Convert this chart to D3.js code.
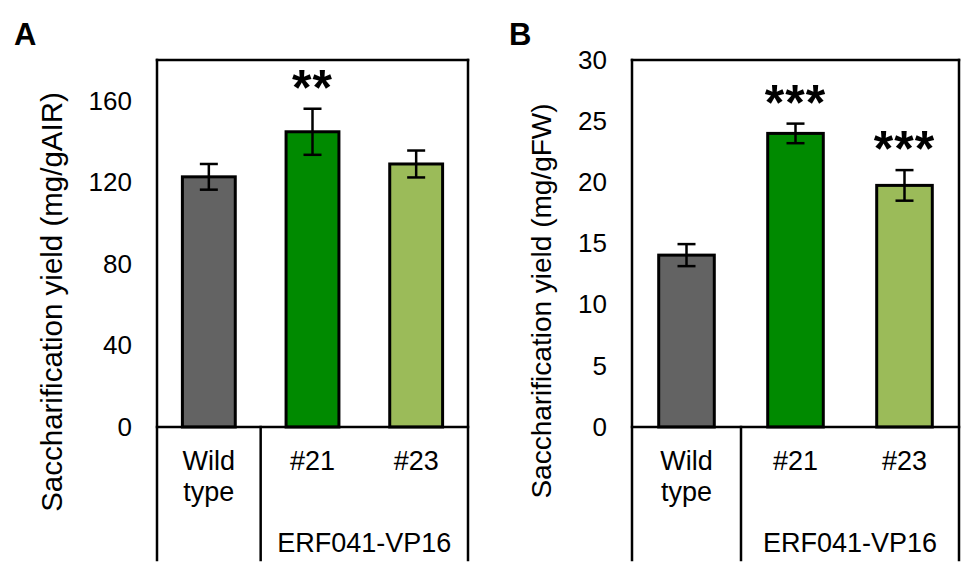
<!DOCTYPE html>
<html>
<head>
<meta charset="utf-8">
<script src="https://cdn.jsdelivr.net/npm/d3@7"></script>
<style>
  body { margin: 0; background: #fff; }
  text { font-family: "Liberation Sans", Arial, sans-serif; fill: #000; }
</style>
</head>
<body>
<div id="chart"></div>
<script>
// data
var lines = ["Wild type", "#21", "#23"]
var barColors = ["#636363", "#008a00", "#9bbb59"]

var airMeans = [122.7, 144.8, 129]
var airErrors = [6.3, 11.3, 6.6]
var airStars = ["", "**", ""]
var airTicks = [0, 40, 80, 120, 160]

var fwMeans = [14.05, 24.0, 19.75]
var fwErrors = [0.9, 0.8, 1.25]
var fwStars = ["", "***", "***"]
var fwTicks = [0, 5, 10, 15, 20, 25, 30]

var groupLabel = "ERF041-VP16"

var svg = d3.select("#chart")
    .append("svg")
    .attr("width", 975)
    .attr("height", 575)

function drawPanel(config){
    var left = config.left, right = config.right
    var top = 60, zero = 427, bottom = 560

    var x = d3.scaleBand()
        .domain(lines)
        .range([left, right])
        .paddingInner(0)

    var y = d3.scaleLinear()
        .domain([0, config.yMax])
        .range([zero, top])

    var g = svg.append("g")

    // panel letter
    g.append("text")
        .attr("x", config.letterX)
        .attr("y", 45)
        .attr("font-size", 31)
        .attr("font-weight", "bold")
        .text(config.letter)

    // y axis tick labels (no tick marks)
    var yAxis = d3.axisLeft(y)
        .tickValues(config.ticks)
        .tickSize(0)
        .tickPadding(0)

    var axisG = g.append("g")
        .attr("transform", "translate(" + config.tickX + ",0)")
        .call(yAxis)
    axisG.select(".domain").remove()
    axisG.selectAll("text")
        .attr("font-size", 26)
        .attr("font-family", "Liberation Sans, Arial, sans-serif")
        .attr("fill", "#000")

    // y title
    g.append("text")
        .attr("transform", "translate(" + config.titleX + "," + config.titleY + ") rotate(-90)")
        .attr("text-anchor", "middle")
        .attr("font-size", config.titleSize)
        .text(config.title)

    // bars
    var data = lines.map(function(d, i){
        return {name: d, mean: config.means[i], err: config.errors[i], stars: config.stars[i], color: barColors[i]}
    })
    var bw = x.bandwidth() * 0.51

    g.selectAll(".bar")
        .data(data)
        .enter()
        .append("rect")
        .attr("class", "bar")
        .attr("x", d => x(d.name) + x.bandwidth()/2 - bw/2)
        .attr("y", d => y(d.mean))
        .attr("width", bw)
        .attr("height", d => y(0) - y(d.mean))
        .attr("fill", d => d.color)
        .attr("stroke", "#000")
        .attr("stroke-width", 3)

    // error bars
    var eb = g.selectAll(".err")
        .data(data)
        .enter()
        .append("g")
        .attr("class", "err")
        .attr("stroke", "#000")
        .attr("stroke-width", 2.5)

    eb.append("line")
        .attr("x1", d => x(d.name) + x.bandwidth()/2)
        .attr("x2", d => x(d.name) + x.bandwidth()/2)
        .attr("y1", d => y(d.mean + d.err))
        .attr("y2", d => y(d.mean - d.err))
    eb.append("line")
        .attr("x1", d => x(d.name) + x.bandwidth()/2 - 9)
        .attr("x2", d => x(d.name) + x.bandwidth()/2 + 9)
        .attr("y1", d => y(d.mean + d.err))
        .attr("y2", d => y(d.mean + d.err))
    eb.append("line")
        .attr("x1", d => x(d.name) + x.bandwidth()/2 - 9)
        .attr("x2", d => x(d.name) + x.bandwidth()/2 + 9)
        .attr("y1", d => y(d.mean - d.err))
        .attr("y2", d => y(d.mean - d.err))

    // significance stars
    g.selectAll(".star")
        .data(data)
        .enter()
        .append("text")
        .attr("class", "star")
        .attr("x", d => x(d.name) + x.bandwidth()/2)
        .attr("y", d => y(d.mean + d.err) - 4)
        .attr("text-anchor", "middle")
        .attr("font-size", 50)
        .attr("font-weight", "bold")
        .attr("letter-spacing", 1)
        .text(d => d.stars)

    // frame
    var frame = g.append("g")
        .attr("stroke", "#000")
        .attr("stroke-width", 2.5)
        .attr("fill", "none")
        .attr("stroke-linecap", "square")
    frame.append("line").attr("x1", left).attr("x2", right).attr("y1", top).attr("y2", top)
    frame.append("line").attr("x1", left).attr("x2", right).attr("y1", zero).attr("y2", zero)
    frame.append("line").attr("x1", left).attr("x2", left).attr("y1", top).attr("y2", bottom)
    frame.append("line").attr("x1", right).attr("x2", right).attr("y1", top).attr("y2", bottom)
    frame.append("line")
        .attr("x1", x(lines[1])).attr("x2", x(lines[1]))
        .attr("y1", zero).attr("y2", bottom)

    // category labels
    var cx0 = x(lines[0]) + x.bandwidth()/2
    var wt = g.append("text")
        .attr("x", cx0)
        .attr("y", 470)
        .attr("text-anchor", "middle")
        .attr("font-size", 27)
    wt.append("tspan").attr("x", cx0).text("Wild")
    wt.append("tspan").attr("x", cx0).attr("dy", 31).text("type")

    g.selectAll(".cat")
        .data(lines.slice(1))
        .enter()
        .append("text")
        .attr("class", "cat")
        .attr("x", d => x(d) + x.bandwidth()/2)
        .attr("y", 470)
        .attr("text-anchor", "middle")
        .attr("font-size", 27)
        .text(d => d)

    g.append("text")
        .attr("x", (x(lines[1]) + right) / 2)
        .attr("y", 552)
        .attr("text-anchor", "middle")
        .attr("font-size", 27)
        .text(groupLabel)
}

drawPanel({
    letter: "A", letterX: 14, left: 157, right: 468, tickX: 132,
    titleX: 62, titleY: 302, titleSize: 29.5,
    yMax: 180, ticks: airTicks, means: airMeans, errors: airErrors, stars: airStars,
    title: "Saccharification yield (mg/gAIR)"
})

drawPanel({
    letter: "B", letterX: 509, left: 632, right: 959, tickX: 607,
    titleX: 551, titleY: 301, titleSize: 28,
    yMax: 30, ticks: fwTicks, means: fwMeans, errors: fwErrors, stars: fwStars,
    title: "Saccharification yield (mg/gFW)"
})
</script>
</body>
</html>
